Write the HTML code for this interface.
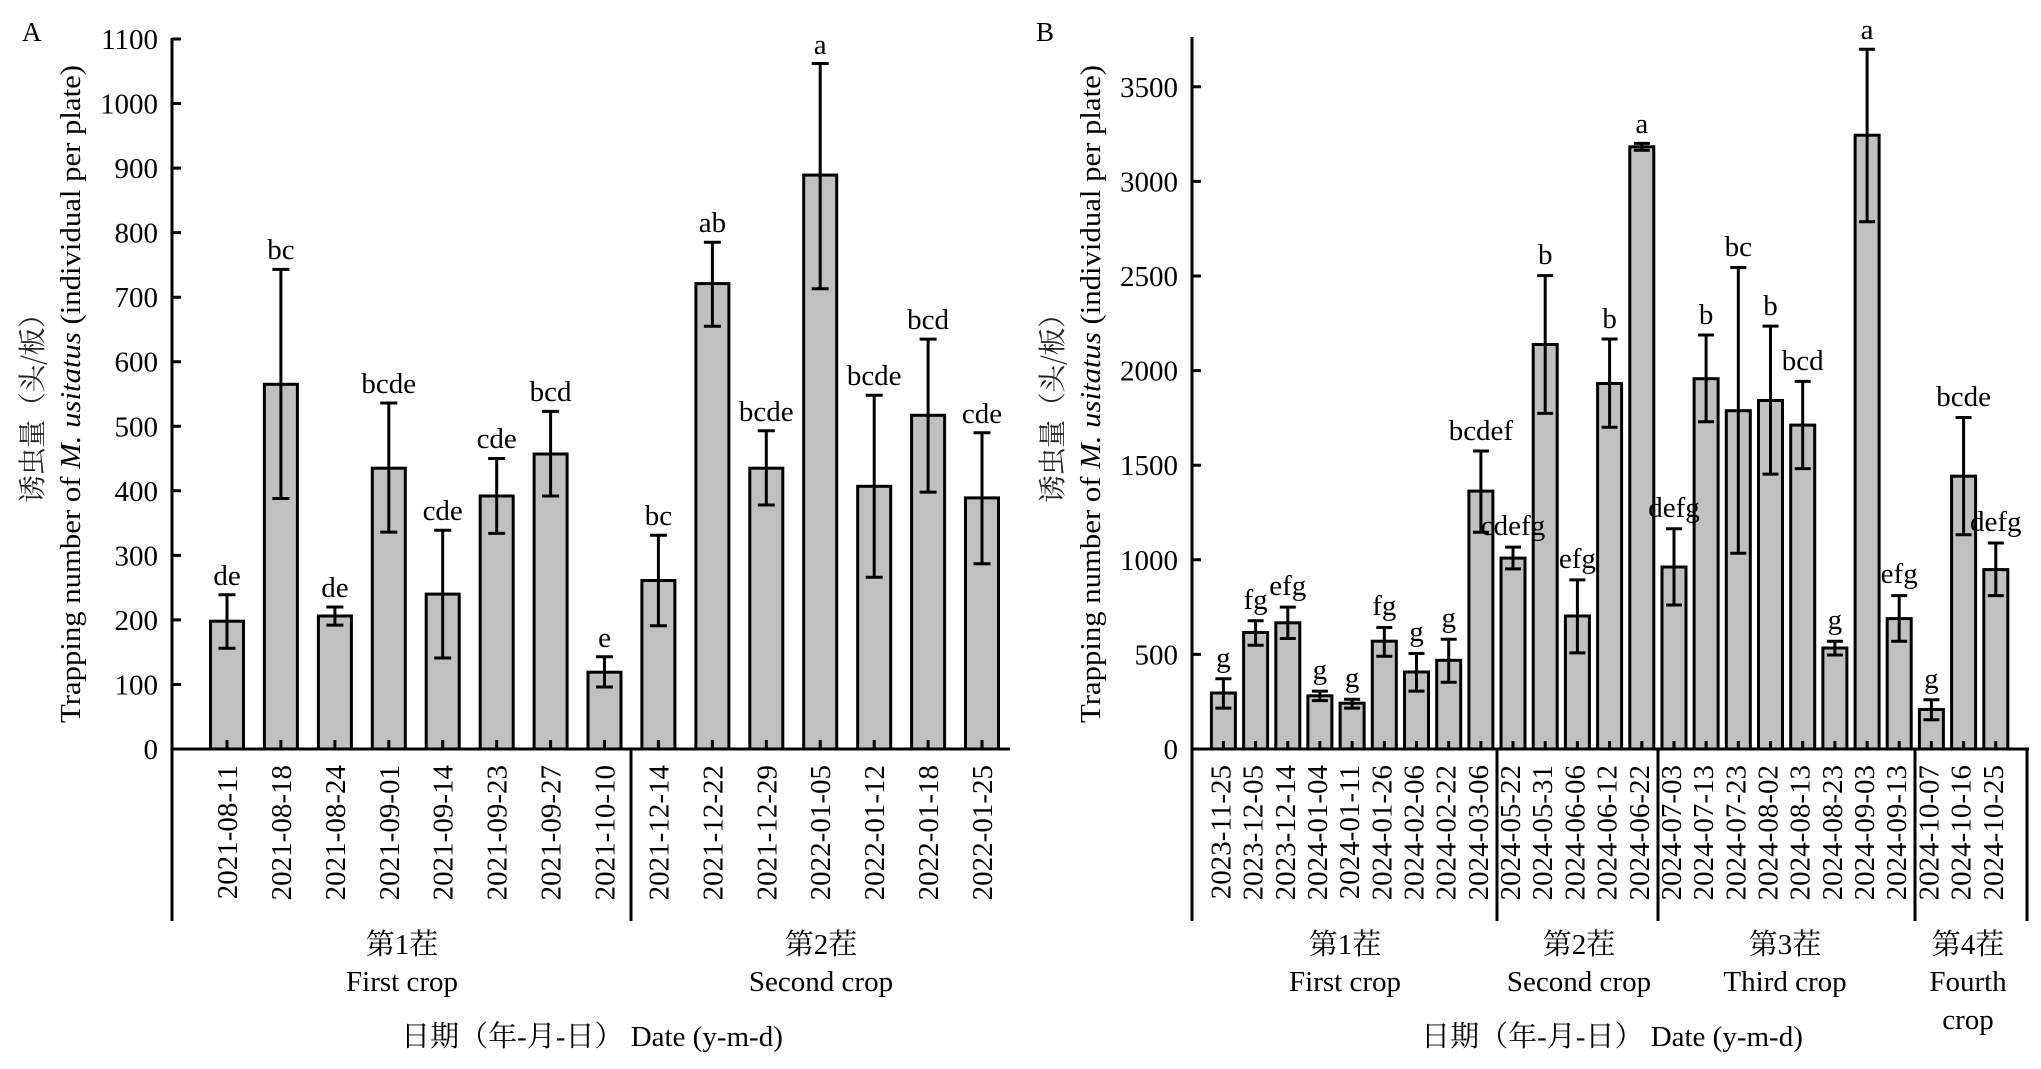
<!DOCTYPE html>
<html><head><meta charset="utf-8"><style>
html,body{margin:0;padding:0;background:#fff}
svg{display:block}
svg text{font-family:"Liberation Serif","Times New Roman","Noto Serif CJK SC",serif;fill:#000}
.t{font-size:29px}
svg text.cj{font-family:"Noto Serif CJK SC","Noto Sans CJK SC",serif;font-size:28px;fill:#222}
</style></head><body>
<svg width="2041" height="1069" viewBox="0 0 2041 1069" xmlns="http://www.w3.org/2000/svg" font-family="Liberation Serif, Times New Roman, serif">
<g stroke="#000" stroke-width="3" fill="none">
<line x1="172" y1="38" x2="172" y2="921"/>
<line x1="170.5" y1="749" x2="1010" y2="749"/>
<line x1="631" y1="749" x2="631" y2="921"/>
<path d="M172 749h9M172 684.5h9M172 619.9h9M172 555.4h9M172 490.8h9M172 426.3h9M172 361.7h9M172 297.2h9M172 232.6h9M172 168.1h9M172 103.5h9M172 39h9"/>
<line x1="1192" y1="37" x2="1192" y2="921"/>
<line x1="1190.5" y1="749" x2="2029" y2="749"/>
<line x1="2027" y1="749" x2="2027" y2="921"/>
<line x1="1497" y1="749" x2="1497" y2="921"/>
<line x1="1658" y1="749" x2="1658" y2="921"/>
<line x1="1915" y1="749" x2="1915" y2="921"/>
<path d="M1192 749h9M1192 654.4h9M1192 559.8h9M1192 465.2h9M1192 370.6h9M1192 276h9M1192 181.4h9M1192 86.8h9"/>
</g>

<g fill="#c0c0c0" stroke="#000" stroke-width="3">
<rect x="210.5" y="621.2" width="33" height="127.8"/>
<rect x="264.4" y="384.3" width="33" height="364.7"/>
<rect x="318.4" y="616" width="33" height="133"/>
<rect x="372.3" y="468.2" width="33" height="280.8"/>
<rect x="426.2" y="594.1" width="33" height="154.9"/>
<rect x="480.2" y="496" width="33" height="253"/>
<rect x="534.1" y="454" width="33" height="295"/>
<rect x="588" y="672.2" width="33" height="76.8"/>
<rect x="641.9" y="580.5" width="33" height="168.5"/>
<rect x="695.9" y="283.6" width="33" height="465.4"/>
<rect x="749.8" y="468.2" width="33" height="280.8"/>
<rect x="803.7" y="175.1" width="33" height="573.9"/>
<rect x="857.7" y="486.3" width="33" height="262.7"/>
<rect x="911.6" y="415.3" width="33" height="333.7"/>
<rect x="965.5" y="497.9" width="33" height="251.1"/>
</g>
<g stroke="#000" stroke-width="3" fill="none">
<path d="M227 594.7V648.3M218.5 594.7h17M218.5 648.3h17M227 749v-9"/>
<path d="M280.9 269.4V498.5M272.4 269.4h17M272.4 498.5h17M280.9 749v-9"/>
<path d="M334.9 607V625.1M326.4 607h17M326.4 625.1h17M334.9 749v-9"/>
<path d="M388.8 403V532.1M380.3 403h17M380.3 532.1h17M388.8 749v-9"/>
<path d="M442.7 530.2V658M434.2 530.2h17M434.2 658h17M442.7 749v-9"/>
<path d="M496.7 458.5V533.4M488.2 458.5h17M488.2 533.4h17M496.7 749v-9"/>
<path d="M550.6 411.4V496M542.1 411.4h17M542.1 496h17M550.6 749v-9"/>
<path d="M604.5 656.7V687M596 656.7h17M596 687h17M604.5 749v-9"/>
<path d="M658.4 535.3V625.7M649.9 535.3h17M649.9 625.7h17M658.4 749v-9"/>
<path d="M712.4 242.3V326.2M703.9 242.3h17M703.9 326.2h17M712.4 749v-9"/>
<path d="M766.3 430.8V505M757.8 430.8h17M757.8 505h17M766.3 749v-9"/>
<path d="M820.2 63.5V288.8M811.7 63.5h17M811.7 288.8h17M820.2 749v-9"/>
<path d="M874.2 395.3V577.3M865.7 395.3h17M865.7 577.3h17M874.2 749v-9"/>
<path d="M928.1 339.1V492.1M919.6 339.1h17M919.6 492.1h17M928.1 749v-9"/>
<path d="M982 432.7V563.7M973.5 432.7h17M973.5 563.7h17M982 749v-9"/>
</g>

<g fill="#c0c0c0" stroke="#000" stroke-width="3">
<rect x="1211.4" y="693" width="24" height="56"/>
<rect x="1243.6" y="632.5" width="24" height="116.5"/>
<rect x="1275.8" y="622.8" width="24" height="126.2"/>
<rect x="1307.9" y="695.8" width="24" height="53.2"/>
<rect x="1340.1" y="703.2" width="24" height="45.8"/>
<rect x="1372.3" y="641.2" width="24" height="107.8"/>
<rect x="1404.5" y="672" width="24" height="77"/>
<rect x="1436.7" y="660.3" width="24" height="88.7"/>
<rect x="1468.9" y="491.1" width="24" height="257.9"/>
<rect x="1501" y="558.1" width="24" height="190.9"/>
<rect x="1533.2" y="344.5" width="24" height="404.5"/>
<rect x="1565.4" y="616" width="24" height="133"/>
<rect x="1597.6" y="383.5" width="24" height="365.5"/>
<rect x="1629.8" y="146.8" width="24" height="602.2"/>
<rect x="1662" y="567" width="24" height="182"/>
<rect x="1694.1" y="378.7" width="24" height="370.3"/>
<rect x="1726.3" y="410.7" width="24" height="338.3"/>
<rect x="1758.5" y="400.5" width="24" height="348.5"/>
<rect x="1790.7" y="425.1" width="24" height="323.9"/>
<rect x="1822.9" y="648" width="24" height="101"/>
<rect x="1855.1" y="135.2" width="24" height="613.8"/>
<rect x="1887.2" y="618.6" width="24" height="130.4"/>
<rect x="1919.4" y="709.5" width="24" height="39.5"/>
<rect x="1951.6" y="476.2" width="24" height="272.8"/>
<rect x="1983.8" y="569.6" width="24" height="179.4"/>
</g>
<g stroke="#000" stroke-width="3" fill="none">
<path d="M1223.4 678.8V708.1M1215.4 678.8h16M1215.4 708.1h16M1223.4 749v-8"/>
<path d="M1255.6 620.7V645.3M1247.6 620.7h16M1247.6 645.3h16M1255.6 749v-8"/>
<path d="M1287.8 607.1V638.5M1279.8 607.1h16M1279.8 638.5h16M1287.8 749v-8"/>
<path d="M1319.9 691.1V700.6M1311.9 691.1h16M1311.9 700.6h16M1319.9 749v-8"/>
<path d="M1352.1 699.2V708.1M1344.1 699.2h16M1344.1 708.1h16M1352.1 749v-8"/>
<path d="M1384.3 627.5V656.3M1376.3 627.5h16M1376.3 656.3h16M1384.3 749v-8"/>
<path d="M1416.5 653.5V691.1M1408.5 653.5h16M1408.5 691.1h16M1416.5 749v-8"/>
<path d="M1448.7 639.3V682.2M1440.7 639.3h16M1440.7 682.2h16M1448.7 749v-8"/>
<path d="M1480.9 451V532.2M1472.9 451h16M1472.9 532.2h16M1480.9 749v-8"/>
<path d="M1513 547.1V568.9M1505 547.1h16M1505 568.9h16M1513 749v-8"/>
<path d="M1545.2 275.6V413.4M1537.2 275.6h16M1537.2 413.4h16M1545.2 749v-8"/>
<path d="M1577.4 579.9V652.9M1569.4 579.9h16M1569.4 652.9h16M1577.4 749v-8"/>
<path d="M1609.6 339V427.2M1601.6 339h16M1601.6 427.2h16M1609.6 749v-8"/>
<path d="M1641.8 143.4V150.2M1633.8 143.4h16M1633.8 150.2h16M1641.8 749v-8"/>
<path d="M1674 528.8V605M1666 528.8h16M1666 605h16M1674 749v-8"/>
<path d="M1706.1 335V421.7M1698.1 335h16M1698.1 421.7h16M1706.1 749v-8"/>
<path d="M1738.3 267.5V553.2M1730.3 267.5h16M1730.3 553.2h16M1738.3 749v-8"/>
<path d="M1770.5 326.1V474.1M1762.5 326.1h16M1762.5 474.1h16M1770.5 749v-8"/>
<path d="M1802.7 381.4V468.6M1794.7 381.4h16M1794.7 468.6h16M1802.7 749v-8"/>
<path d="M1834.9 641.2V655M1826.9 641.2h16M1826.9 655h16M1834.9 749v-8"/>
<path d="M1867.1 49.2V221.7M1859.1 49.2h16M1859.1 221.7h16M1867.1 749v-8"/>
<path d="M1899.2 595.6V641.2M1891.2 595.6h16M1891.2 641.2h16M1899.2 749v-8"/>
<path d="M1931.4 699.8V719.7M1923.4 699.8h16M1923.4 719.7h16M1931.4 749v-8"/>
<path d="M1963.6 417.5V534.8M1955.6 417.5h16M1955.6 534.8h16M1963.6 749v-8"/>
<path d="M1995.8 543V595.6M1987.8 543h16M1987.8 595.6h16M1995.8 749v-8"/>
</g>

<text x="22" y="41" font-size="27">A</text>
<text x="1036" y="41" font-size="27">B</text>

<g class="t" text-anchor="end">
<text x="158" y="759">0</text><text x="158" y="694.5">100</text><text x="158" y="629.9">200</text>
<text x="158" y="565.4">300</text><text x="158" y="500.8">400</text><text x="158" y="436.3">500</text>
<text x="158" y="371.7">600</text><text x="158" y="307.2">700</text><text x="158" y="242.6">800</text>
<text x="158" y="178.1">900</text><text x="158" y="113.5">1000</text><text x="158" y="49">1100</text>
</g>
<g class="t" text-anchor="end">
<text x="1178" y="759">0</text><text x="1178" y="664.4">500</text><text x="1178" y="569.8">1000</text>
<text x="1178" y="475.2">1500</text><text x="1178" y="380.6">2000</text><text x="1178" y="286">2500</text>
<text x="1178" y="191.4">3000</text><text x="1178" y="96.8">3500</text>
</g>

<text class="cj" transform="translate(42,503) rotate(-90)" textLength="203" lengthAdjust="spacing">诱虫量（头/板）</text>
<text font-size="28" transform="translate(80,723) rotate(-90)" textLength="658" lengthAdjust="spacingAndGlyphs">Trapping number of <tspan font-style="italic">M. usitatus</tspan> (individual per plate)</text>
<text class="cj" transform="translate(1062,503) rotate(-90)" textLength="203" lengthAdjust="spacing">诱虫量（头/板）</text>
<text font-size="28" transform="translate(1100,723) rotate(-90)" textLength="658" lengthAdjust="spacingAndGlyphs">Trapping number of <tspan font-style="italic">M. usitatus</tspan> (individual per plate)</text>

<g class="t" text-anchor="middle">
<text x="227" y="585">de</text><text x="280.9" y="259">bc</text><text x="334.9" y="597">de</text>
<text x="388.8" y="393">bcde</text><text x="442.7" y="520">cde</text><text x="496.7" y="448">cde</text>
<text x="550.6" y="401">bcd</text><text x="604.5" y="647">e</text><text x="658.4" y="525">bc</text>
<text x="712.4" y="232">ab</text><text x="766.3" y="421">bcde</text><text x="820.2" y="54">a</text>
<text x="874.2" y="385">bcde</text><text x="928.1" y="329">bcd</text><text x="982" y="423">cde</text>
</g>
<g class="t" text-anchor="middle">
<text x="1223.4" y="667">g</text><text x="1255.6" y="609">fg</text><text x="1287.8" y="595">efg</text>
<text x="1319.9" y="679">g</text><text x="1352.1" y="687">g</text><text x="1384.3" y="615">fg</text>
<text x="1416.5" y="641">g</text><text x="1448.7" y="627">g</text><text x="1480.9" y="440">bcdef</text>
<text x="1513" y="535">cdefg</text><text x="1545.2" y="264">b</text><text x="1577.4" y="568">efg</text>
<text x="1609.6" y="328">b</text><text x="1641.8" y="133">a</text><text x="1674" y="517">defg</text>
<text x="1706.1" y="324">b</text><text x="1738.3" y="256">bc</text><text x="1770.5" y="315">b</text>
<text x="1802.7" y="370">bcd</text><text x="1834.9" y="629">g</text><text x="1867.1" y="39">a</text>
<text x="1899.2" y="583">efg</text><text x="1931.4" y="688">g</text><text x="1963.6" y="406">bcde</text>
<text x="1995.8" y="531">defg</text>
</g>

<g class="t" text-anchor="end">
<text transform="translate(237,765) rotate(-90)">2021-08-11</text>
<text transform="translate(290.9,765) rotate(-90)">2021-08-18</text>
<text transform="translate(344.9,765) rotate(-90)">2021-08-24</text>
<text transform="translate(398.8,765) rotate(-90)">2021-09-01</text>
<text transform="translate(452.7,765) rotate(-90)">2021-09-14</text>
<text transform="translate(506.7,765) rotate(-90)">2021-09-23</text>
<text transform="translate(560.6,765) rotate(-90)">2021-09-27</text>
<text transform="translate(614.5,765) rotate(-90)">2021-10-10</text>
<text transform="translate(668.4,765) rotate(-90)">2021-12-14</text>
<text transform="translate(722.4,765) rotate(-90)">2021-12-22</text>
<text transform="translate(776.3,765) rotate(-90)">2021-12-29</text>
<text transform="translate(830.2,765) rotate(-90)">2022-01-05</text>
<text transform="translate(884.2,765) rotate(-90)">2022-01-12</text>
<text transform="translate(938.1,765) rotate(-90)">2022-01-18</text>
<text transform="translate(992,765) rotate(-90)">2022-01-25</text>
</g>
<g class="t" text-anchor="end">
<text transform="translate(1230.4,765) rotate(-90)">2023-11-25</text>
<text transform="translate(1262.6,765) rotate(-90)">2023-12-05</text>
<text transform="translate(1294.8,765) rotate(-90)">2023-12-14</text>
<text transform="translate(1326.9,765) rotate(-90)">2024-01-04</text>
<text transform="translate(1359.1,765) rotate(-90)">2024-01-11</text>
<text transform="translate(1391.3,765) rotate(-90)">2024-01-26</text>
<text transform="translate(1423.5,765) rotate(-90)">2024-02-06</text>
<text transform="translate(1455.7,765) rotate(-90)">2024-02-22</text>
<text transform="translate(1487.9,765) rotate(-90)">2024-03-06</text>
<text transform="translate(1520,765) rotate(-90)">2024-05-22</text>
<text transform="translate(1552.2,765) rotate(-90)">2024-05-31</text>
<text transform="translate(1584.4,765) rotate(-90)">2024-06-06</text>
<text transform="translate(1616.6,765) rotate(-90)">2024-06-12</text>
<text transform="translate(1648.8,765) rotate(-90)">2024-06-22</text>
<text transform="translate(1681,765) rotate(-90)">2024-07-03</text>
<text transform="translate(1713.1,765) rotate(-90)">2024-07-13</text>
<text transform="translate(1745.3,765) rotate(-90)">2024-07-23</text>
<text transform="translate(1777.5,765) rotate(-90)">2024-08-02</text>
<text transform="translate(1809.7,765) rotate(-90)">2024-08-13</text>
<text transform="translate(1841.9,765) rotate(-90)">2024-08-23</text>
<text transform="translate(1874.1,765) rotate(-90)">2024-09-03</text>
<text transform="translate(1906.2,765) rotate(-90)">2024-09-13</text>
<text transform="translate(1938.4,765) rotate(-90)">2024-10-07</text>
<text transform="translate(1970.6,765) rotate(-90)">2024-10-16</text>
<text transform="translate(2002.8,765) rotate(-90)">2024-10-25</text>
</g>

<g class="t" text-anchor="middle">
<text x="402" y="954">第1茬</text><text x="402" y="991">First crop</text>
<text x="821" y="954">第2茬</text><text x="821" y="991">Second crop</text>
<text x="592" y="1046">日期（年-月-日） Date (y-m-d)</text>
<text x="1345" y="954">第1茬</text><text x="1345" y="991">First crop</text>
<text x="1579" y="954">第2茬</text><text x="1579" y="991">Second crop</text>
<text x="1785" y="954">第3茬</text><text x="1785" y="991">Third crop</text>
<text x="1968" y="954">第4茬</text><text x="1968" y="991">Fourth</text><text x="1968" y="1029">crop</text>
<text x="1612" y="1046">日期（年-月-日） Date (y-m-d)</text>
</g>
</svg>
</body></html>
